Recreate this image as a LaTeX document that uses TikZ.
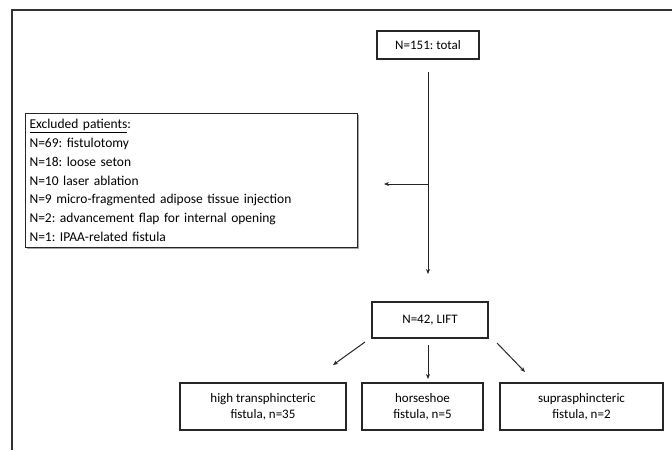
\documentclass[tikz,border=0pt]{standalone}
\usepackage{fontspec}
\setmainfont{Carlito}
\frenchspacing
\usetikzlibrary{arrows.meta,shadows}
\begin{document}
\begin{tikzpicture}[x=1pt,y=-1pt,
  box/.style={draw=black!85,line width=1.1pt,fill=white,
    drop shadow={shadow xshift=1pt,shadow yshift=-1.2pt,opacity=0.35,fill=black},
    font=\fontsize{13}{16}\selectfont,align=center,inner sep=0pt},
  conn/.style={draw=black!85,line width=1pt,-{Stealth[length=5pt,width=4pt]}},
  frame/.style={draw=black!80,line width=1.8pt}]
\useasboundingbox (0,0) rectangle (672,450);
\draw[frame] (12,450) -- (12,10) -- (672,10);
\node[box,minimum width=102pt,minimum height=28pt] (total) at (428,45) {N=151: total};
\node[box,anchor=north west,minimum width=332pt,minimum height=134pt,
  text width=324pt,align=left,inner xsep=4pt,
  font=\fontsize{13.5}{18.8}\selectfont] (excl) at (25,113)
  {\underline{Excluded patients}:\\
   N=69: fistulotomy\\
   N=18: loose seton\\
   N=10 laser ablation\\
   N=9 micro-fragmented adipose tissue injection\\
   N=2: advancement flap for internal opening\\
   N=1: IPAA-related fistula};
\node[box,minimum width=116pt,minimum height=36pt] (lift) at (430,320) {N=42, LIFT};
\node[box,minimum width=166pt,minimum height=47pt] (high) at (263,406.5) {high transphincteric\\fistula, n=35};
\node[box,minimum width=121pt,minimum height=47pt] (horse) at (422.5,406.5) {horseshoe\\fistula, n=5};
\node[box,minimum width=163pt,minimum height=47pt] (supra) at (581.5,406.5) {suprasphincteric\\fistula, n=2};
\coordinate (vtop) at (428,72);
\coordinate (vbot) at (428,274);
\coordinate (hmid) at (428,184);
\coordinate (htip) at (384,184);
\draw[conn] (vtop) -- (vbot);
\draw[conn] (hmid) -- (htip);
\coordinate (la) at (365,342);
\coordinate (lb) at (333,365);
\coordinate (ma) at (428,345);
\coordinate (mb) at (428,379);
\coordinate (ra) at (497,343);
\coordinate (rb) at (525,372);
\draw[conn] (la) -- (lb);
\draw[conn] (ma) -- (mb);
\draw[conn] (ra) -- (rb);
\end{tikzpicture}
\end{document}
